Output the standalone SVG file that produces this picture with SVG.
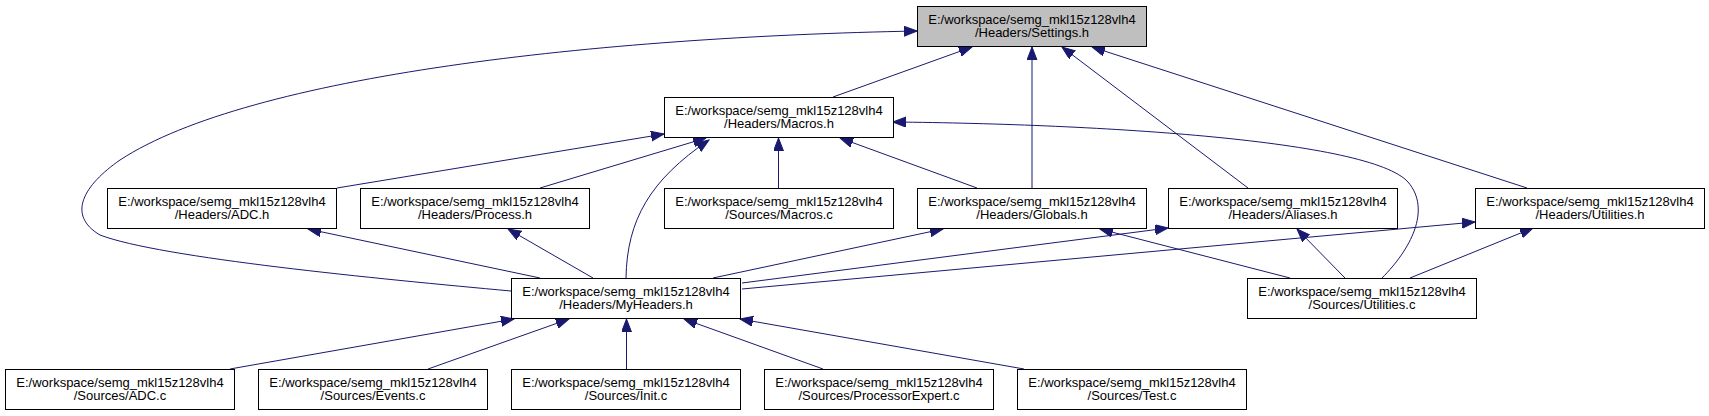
<svg xmlns="http://www.w3.org/2000/svg" width="1709" height="416" viewBox="0 0 1709 416">
<style>
.n rect{fill:#ffffff;stroke:#000000;stroke-width:1}
.n.cur rect{fill:#bfbfbf}
.n text{font-family:"Liberation Sans",Arial,sans-serif;font-size:13px;fill:#000000;text-anchor:middle}
.e path{fill:none;stroke:#191970;stroke-width:1;marker-end:url(#ah)}
</style>
<defs>
<marker id="ah" markerUnits="userSpaceOnUse" markerWidth="14" markerHeight="11" refX="13" refY="5" orient="auto">
<path d="M0,0 L13,5 L0,10 Z" fill="#191970" stroke="#191970" stroke-width="1"/>
</marker>
</defs>
<rect width="1709" height="416" fill="#ffffff"/>
<g id="edges" class="e">
<path d="M833,97 L972,47"/>
<path d="M1032,188 L1032,47"/>
<path d="M1248,188 L1062,47"/>
<path d="M1527,188 L1092,47"/>
<path d="M511,291 C380,279 160,258 100,235 C66,215 84,185 120,160 C250,75 600,37 917,31"/>
<path d="M337,188 L664,134"/>
<path d="M540,188 L706,138"/>
<path d="M626,278 C627,220 650,180 709,140"/>
<path d="M778.5,188 L778.5,138"/>
<path d="M977,188 L840,138"/>
<path d="M1382,278 C1410,250 1432,210 1408,182 C1370,140 1100,124 893,122"/>
<path d="M540,278 L308,229"/>
<path d="M593,278 L508,229"/>
<path d="M713,278 L943,229"/>
<path d="M742,283 L1168,228"/>
<path d="M742,289 L1475,222"/>
<path d="M1290,278 L1100,229"/>
<path d="M1345,278 L1297,229"/>
<path d="M1410,278 L1533,228"/>
<path d="M230,369 L514,319"/>
<path d="M428,369 L569,319"/>
<path d="M626.5,369 L626.5,319"/>
<path d="M823,369 L684,319"/>
<path d="M1024,369 L740,319"/>
</g>
<g id="settings_h" class="n cur"><rect x="917.5" y="6.5" width="229" height="40"/><text x="1032" y="23.5">E:/workspace/semg_mkl15z128vlh4</text><text x="1032" y="36.5">/Headers/Settings.h</text></g>
<g id="macros_h" class="n"><rect x="664.5" y="97.5" width="229" height="40"/><text x="779" y="114.5">E:/workspace/semg_mkl15z128vlh4</text><text x="779" y="127.5">/Headers/Macros.h</text></g>
<g id="adc_h" class="n"><rect x="107.5" y="188.5" width="229" height="40"/><text x="222" y="205.5">E:/workspace/semg_mkl15z128vlh4</text><text x="222" y="218.5">/Headers/ADC.h</text></g>
<g id="process_h" class="n"><rect x="360.5" y="188.5" width="229" height="40"/><text x="475" y="205.5">E:/workspace/semg_mkl15z128vlh4</text><text x="475" y="218.5">/Headers/Process.h</text></g>
<g id="macros_c" class="n"><rect x="664.5" y="188.5" width="229" height="40"/><text x="779" y="205.5">E:/workspace/semg_mkl15z128vlh4</text><text x="779" y="218.5">/Sources/Macros.c</text></g>
<g id="globals_h" class="n"><rect x="917.5" y="188.5" width="229" height="40"/><text x="1032" y="205.5">E:/workspace/semg_mkl15z128vlh4</text><text x="1032" y="218.5">/Headers/Globals.h</text></g>
<g id="aliases_h" class="n"><rect x="1168.5" y="188.5" width="229" height="40"/><text x="1283" y="205.5">E:/workspace/semg_mkl15z128vlh4</text><text x="1283" y="218.5">/Headers/Aliases.h</text></g>
<g id="utilities_h" class="n"><rect x="1475.5" y="188.5" width="229" height="40"/><text x="1590" y="205.5">E:/workspace/semg_mkl15z128vlh4</text><text x="1590" y="218.5">/Headers/Utilities.h</text></g>
<g id="myheaders_h" class="n"><rect x="511.5" y="278.5" width="229" height="40"/><text x="626" y="295.5">E:/workspace/semg_mkl15z128vlh4</text><text x="626" y="308.5">/Headers/MyHeaders.h</text></g>
<g id="utilities_c" class="n"><rect x="1247.5" y="278.5" width="229" height="40"/><text x="1362" y="295.5">E:/workspace/semg_mkl15z128vlh4</text><text x="1362" y="308.5">/Sources/Utilities.c</text></g>
<g id="adc_c" class="n"><rect x="5.5" y="369.5" width="229" height="40"/><text x="120" y="386.5">E:/workspace/semg_mkl15z128vlh4</text><text x="120" y="399.5">/Sources/ADC.c</text></g>
<g id="events_c" class="n"><rect x="258.5" y="369.5" width="229" height="40"/><text x="373" y="386.5">E:/workspace/semg_mkl15z128vlh4</text><text x="373" y="399.5">/Sources/Events.c</text></g>
<g id="init_c" class="n"><rect x="511.5" y="369.5" width="229" height="40"/><text x="626" y="386.5">E:/workspace/semg_mkl15z128vlh4</text><text x="626" y="399.5">/Sources/Init.c</text></g>
<g id="processorexpert_c" class="n"><rect x="764.5" y="369.5" width="229" height="40"/><text x="879" y="386.5">E:/workspace/semg_mkl15z128vlh4</text><text x="879" y="399.5">/Sources/ProcessorExpert.c</text></g>
<g id="test_c" class="n"><rect x="1017.5" y="369.5" width="229" height="40"/><text x="1132" y="386.5">E:/workspace/semg_mkl15z128vlh4</text><text x="1132" y="399.5">/Sources/Test.c</text></g>
</svg>
